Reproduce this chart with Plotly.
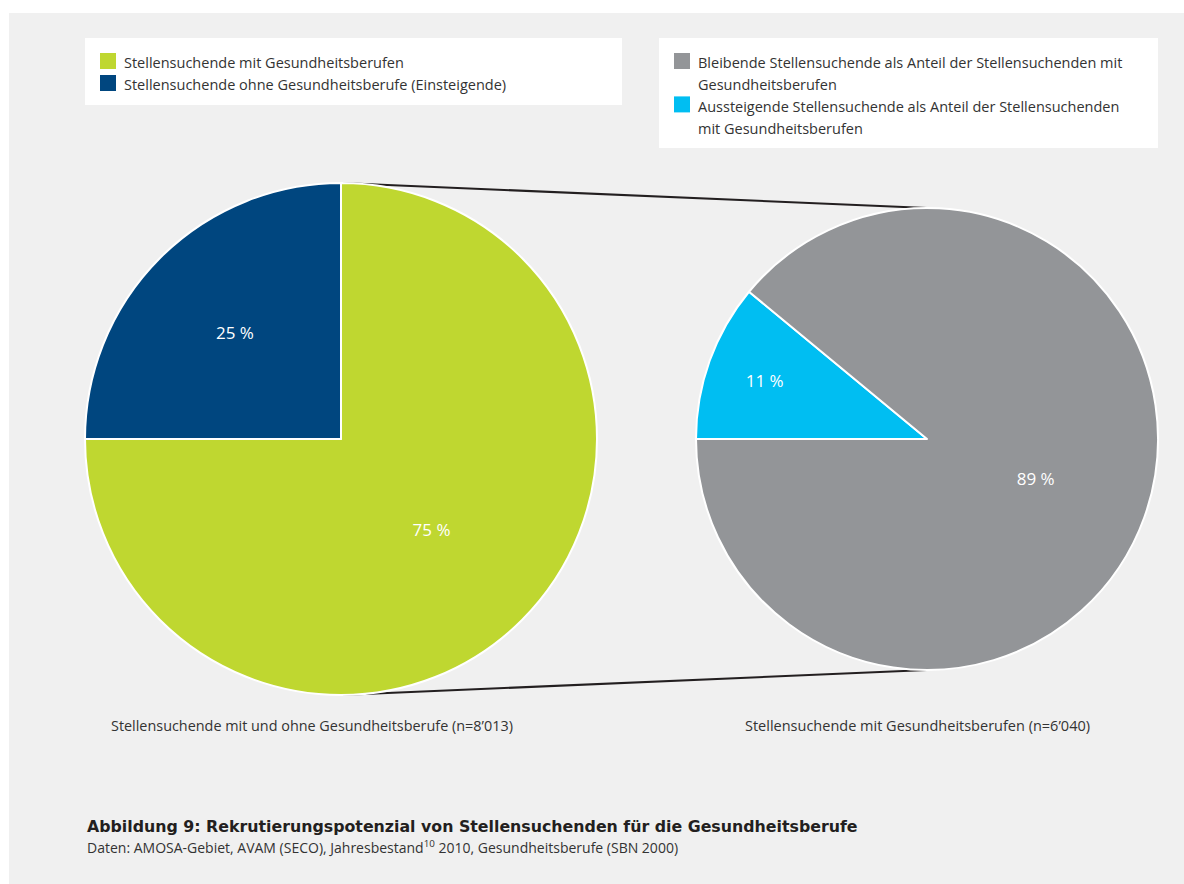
import plotly.graph_objects as go

W, H = 1184, 884

# ---------------- data ----------------
left_labels = ["Stellensuchende mit Gesundheitsberufen",
               "Stellensuchende ohne Gesundheitsberufe (Einsteigende)"]
left_values = [75, 25]
left_colors = ["#BFD730", "#00467F"]

right_labels = ["Bleibende Stellensuchende als Anteil der Stellensuchenden mit<br>Gesundheitsberufen",
                "Aussteigende Stellensuchende als Anteil der Stellensuchenden<br>mit Gesundheitsberufen"]
right_values = [89, 11]
right_colors = ["#939598", "#00BEF2"]

left_caption = "Stellensuchende mit und ohne Gesundheitsberufe (n=8\u2019013)"
right_caption = "Stellensuchende mit Gesundheitsberufen (n=6\u2019040)"
title_text = "<b>Abbildung 9: Rekrutierungspotenzial von Stellensuchenden für die Gesundheitsberufe</b>"
source_text = "Daten: AMOSA-Gebiet, AVAM (SECO), Jahresbestand<sup>10</sup> 2010, Gesundheitsberufe (SBN 2000)"

FONT = "Open Sans"
TXT = "#333333"

def px(x):
    return x / W

def py(y):
    return 1 - y / H

# pie geometry (pixels)
L_c, L_r = (341, 439), 256
R_c, R_r = (927, 439), 231

def dom(c, r):
    return dict(x=[px(c[0] - r), px(c[0] + r)], y=[py(c[1] + r), py(c[1] - r)])

fig = go.Figure()
fig.add_trace(go.Pie(
    labels=left_labels, values=left_values, sort=False,
    direction="clockwise", rotation=0,
    marker=dict(colors=left_colors, line=dict(color="white", width=2)),
    texttemplate="%{value} %", textposition="inside",
    insidetextorientation="horizontal",
    textfont=dict(color="white", size=17, family=FONT),
    domain=dom(L_c, L_r), showlegend=False, hoverinfo="label+value"))
# right pie: the small slice starts at 9 o'clock and runs clockwise
fig.add_trace(go.Pie(
    labels=right_labels[::-1], values=right_values[::-1], sort=False,
    direction="clockwise", rotation=270,
    marker=dict(colors=right_colors[::-1], line=dict(color="white", width=2)),
    texttemplate="%{value} %", textposition="inside",
    insidetextorientation="horizontal",
    textfont=dict(color="white", size=17, family=FONT),
    domain=dom(R_c, R_r), showlegend=False, hoverinfo="label+value"))

shapes = []
# gray panel
shapes.append(dict(type="rect", xref="paper", yref="paper", layer="below",
                   x0=px(9), x1=px(W), y0=py(H), y1=py(13),
                   fillcolor="#F0F0F0", line=dict(width=0)))
# connector lines
for sign in (-1, 1):
    shapes.append(dict(type="line", xref="paper", yref="paper", layer="below",
                       x0=px(L_c[0]), y0=py(L_c[1] + sign * L_r),
                       x1=px(R_c[0]), y1=py(R_c[1] + sign * R_r),
                       line=dict(color="#231F20", width=2)))
# legend boxes
shapes.append(dict(type="rect", xref="paper", yref="paper", layer="below",
                   x0=px(85), x1=px(622), y0=py(105), y1=py(38),
                   fillcolor="white", line=dict(width=0)))
shapes.append(dict(type="rect", xref="paper", yref="paper", layer="below",
                   x0=px(659), x1=px(1158), y0=py(148), y1=py(38),
                   fillcolor="white", line=dict(width=0)))

annotations = []

def legend_block(labels, colors, x_sq, x_txt, y0, dy):
    row = 0
    for lab, col in zip(labels, colors):
        lines = lab.split("<br>")
        yc = y0 + row * dy
        shapes.append(dict(type="rect", xref="paper", yref="paper",
                           x0=px(x_sq), x1=px(x_sq + 16),
                           y0=py(yc + 8 - 2), y1=py(yc - 8 - 2),
                           fillcolor=col, line=dict(width=0)))
        for ln in lines:
            annotations.append(dict(text=ln, xref="paper", yref="paper",
                                    x=px(x_txt), y=py(y0 + row * dy),
                                    xanchor="left", yanchor="middle",
                                    showarrow=False,
                                    font=dict(size=14.5, color=TXT, family=FONT)))
            row += 1

legend_block(left_labels, left_colors, 100, 122, 63, 22)
legend_block(right_labels, right_colors, 674, 696, 63, 21.7)

annotations.append(dict(text=left_caption, xref="paper", yref="paper",
                        x=px(109), y=py(725), xanchor="left", yanchor="middle",
                        showarrow=False, font=dict(size=14.4, color=TXT, family=FONT)))
annotations.append(dict(text=right_caption, xref="paper", yref="paper",
                        x=px(743), y=py(725), xanchor="left", yanchor="middle",
                        showarrow=False, font=dict(size=14.5, color=TXT, family=FONT)))
annotations.append(dict(text=title_text, xref="paper", yref="paper",
                        x=px(85), y=py(826), xanchor="left", yanchor="middle",
                        showarrow=False,
                        font=dict(size=15.8, color="#231F20", family="DejaVu Sans")))
annotations.append(dict(text=source_text, xref="paper", yref="paper",
                        x=px(85), y=py(847), xanchor="left", yanchor="middle",
                        showarrow=False, font=dict(size=14, color=TXT, family=FONT)))

fig.update_layout(
    width=W, height=H, autosize=False,
    margin=dict(l=0, r=0, t=0, b=0),
    paper_bgcolor="white", plot_bgcolor="white",
    shapes=shapes, annotations=annotations,
    font=dict(family=FONT, color=TXT),
)

fig.write_html("out.html", config={"displayModeBar": False},
               post_script="document.body.style.margin='0';")
